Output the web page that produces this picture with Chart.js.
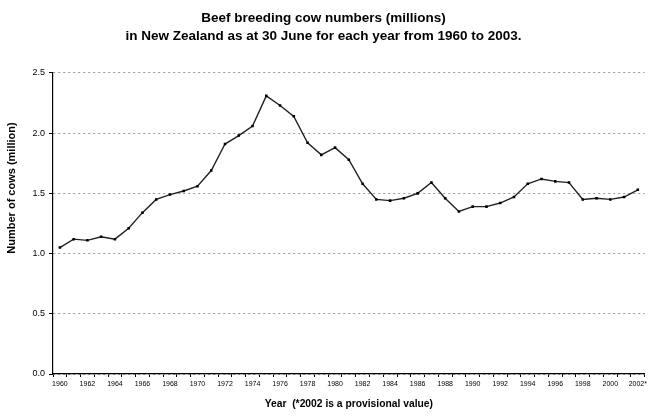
<!DOCTYPE html>
<html>
<head>
<meta charset="utf-8">
<script src="https://cdn.jsdelivr.net/npm/chart.js@4"></script>
<style>
  html, body { margin: 0; padding: 0; background: #fff; }
  #wrap { width: 650px; height: 416px; }
</style>
</head>
<body>
<div id="wrap"><canvas id="myChart" width="650" height="416"></canvas></div>
<script>
// years shown on the x axis (2002 is provisional)
var years = [
  "1960", "1961", "1962", "1963", "1964", "1965", "1966", "1967", "1968", "1969",
  "1970", "1971", "1972", "1973", "1974", "1975", "1976", "1977", "1978", "1979",
  "1980", "1981", "1982", "1983", "1984", "1985", "1986", "1987", "1988", "1989",
  "1990", "1991", "1992", "1993", "1994", "1995", "1996", "1997", "1998", "1999",
  "2000", "2001", "2002*"
];

// beef breeding cows, millions
var cows = [
  1.05, 1.12, 1.11, 1.14, 1.12, 1.21, 1.34, 1.45, 1.49, 1.52,
  1.56, 1.69, 1.91, 1.98, 2.06, 2.31, 2.23, 2.14, 1.92, 1.82,
  1.88, 1.78, 1.58, 1.45, 1.44, 1.46, 1.50, 1.59, 1.46, 1.35,
  1.39, 1.39, 1.42, 1.47, 1.58, 1.62, 1.60, 1.59, 1.45, 1.46,
  1.45, 1.47, 1.53
];

var yTicks = [0.0, 0.5, 1.0, 1.5, 2.0, 2.5];

var titleLines = [
  "Beef breeding cow numbers (millions)",
  "in New Zealand as at 30 June for each year from 1960 to 2003."
];
var yTitle = "Number of cows (million)";
var xTitle = "Year  (*2002 is a provisional value)";

var FONT = "'Liberation Sans', Arial, Helvetica, sans-serif";

window.addEventListener("load", init);

// the y title in the picture sits higher than the middle of the axis,
// so it is drawn by hand instead of through scale.title
var yTitlePlugin = {
  id: "yTitle",
  afterDraw: function (chart) {
    var c = chart.ctx;
    c.save();
    c.translate(12, 188);
    c.rotate(-Math.PI / 2);
    c.font = "bold 11px " + FONT;
    c.fillStyle = "#000";
    c.textAlign = "center";
    c.textBaseline = "middle";
    c.fillText(yTitle, 0, 0);
    c.restore();
  }
};

function init() {
  var ctx = document.getElementById("myChart").getContext("2d");
  var chart = new Chart(ctx, {
    type: "line",
    data: {
      labels: years,
      datasets: [
        {
          label: "cows",
          data: cows,
          borderColor: "#222",
          backgroundColor: "#000",
          borderWidth: 1.4,
          pointStyle: "rect",
          pointRadius: 1.8,
          pointBorderWidth: 0,
          pointBackgroundColor: "#000",
          tension: 0,
          fill: false
        }
      ]
    },
    plugins: [yTitlePlugin],
    options: {
      responsive: false,
      animation: false,
      devicePixelRatio: 1,
      layout: { padding: { left: 0, right: 3, top: 0, bottom: 0 } },
      plugins: {
        legend: { display: false },
        tooltip: { enabled: false },
        title: {
          display: true,
          text: titleLines,
          color: "#000",
          font: { family: FONT, size: 13.5, weight: "bold", lineHeight: 1.333 },
          padding: { top: 9, bottom: 28 }
        }
      },
      scales: {
        x: {
          type: "category",
          offset: true,
          grid: {
            offset: true,
            drawOnChartArea: false,
            drawTicks: true,
            tickLength: 3,
            tickColor: "#000",
            tickWidth: 1
          },
          border: { display: true, color: "#000", width: 1.2 },
          ticks: {
            autoSkip: false,
            maxRotation: 0,
            minRotation: 0,
            color: "#000",
            padding: 3,
            font: { family: FONT, size: 7 },
            callback: function (value, index) {
              return index % 2 === 0 ? this.getLabelForValue(value) : "";
            }
          },
          title: {
            display: true,
            text: xTitle,
            color: "#000",
            font: { family: FONT, size: 10.3, weight: "bold", lineHeight: 1.2 },
            padding: { top: 0, bottom: 6 }
          },
          afterFit: function (scale) {
            scale.height = 42;
          }
        },
        y: {
          min: 0,
          max: 2.5,
          afterBuildTicks: function (scale) {
            scale.ticks = yTicks.map(function (v) { return { value: v }; });
          },
          grid: {
            color: "#999",
            lineWidth: 1,
            drawTicks: true,
            tickLength: 4,
            tickColor: "#000",
            tickBorderDash: []
          },
          border: { display: true, color: "#000", width: 1.2, dash: [2, 3] },
          ticks: {
            color: "#000",
            padding: 4,
            font: { family: FONT, size: 9 },
            callback: function (value) {
              return value.toFixed(1);
            }
          },
          afterFit: function (scale) {
            scale.width = 53;
          }
        }
      }
    }
  });
}
</script>
</body>
</html>
